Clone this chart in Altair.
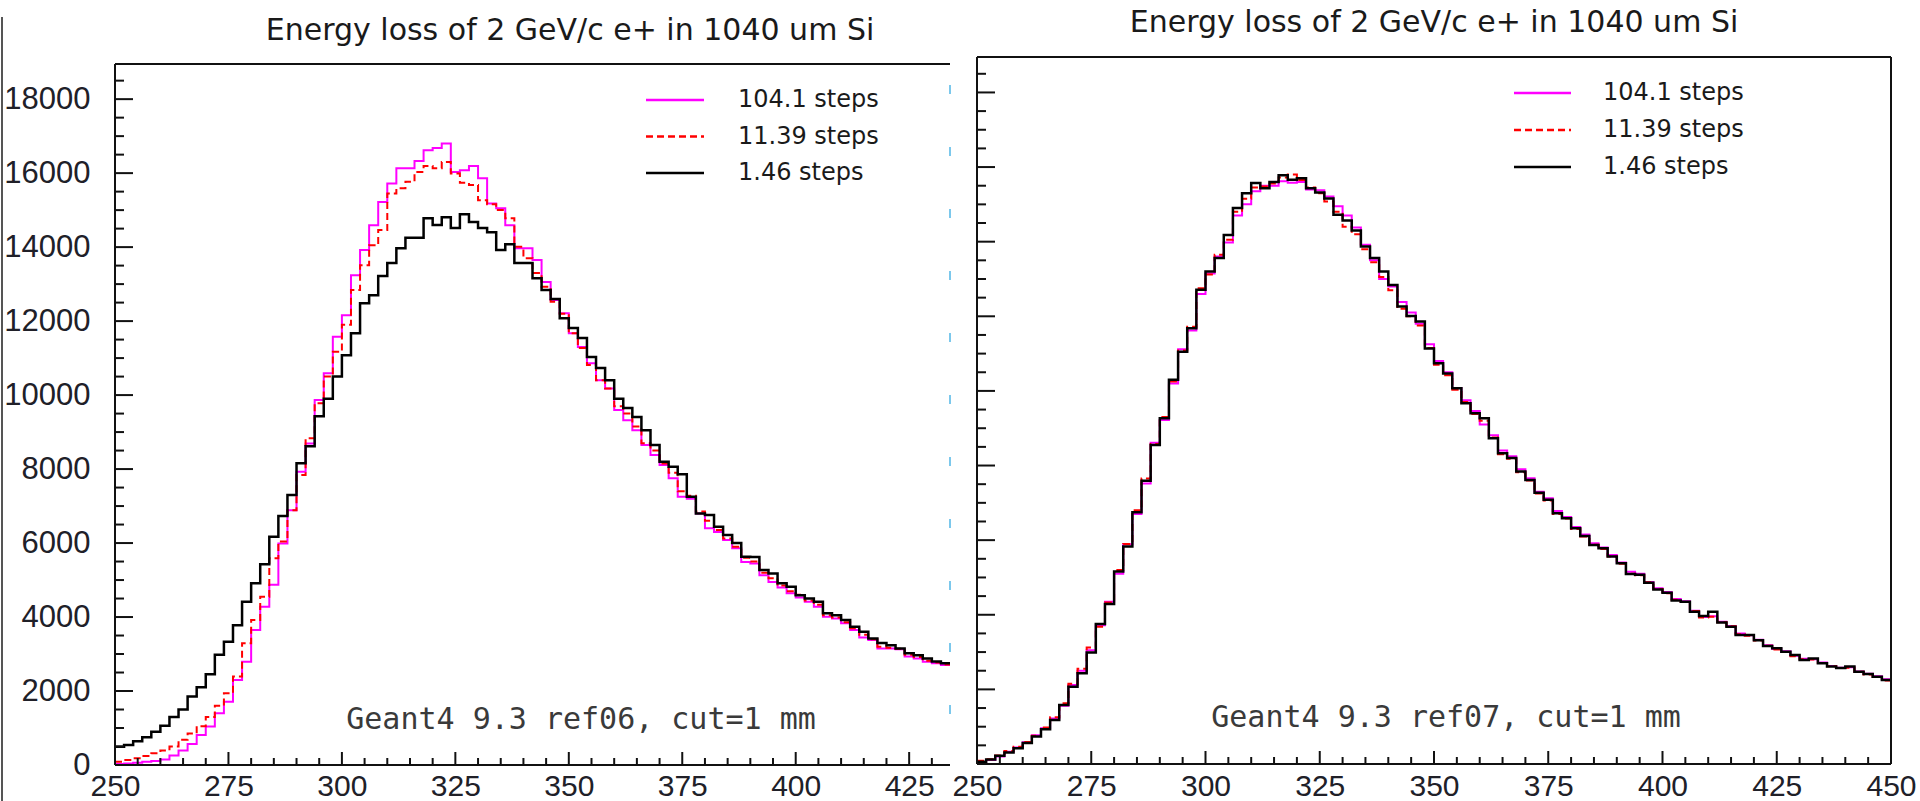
import altair as alt
import pandas as pd

# ---------------- data ----------------
SERIES = ["104.1 steps", "11.39 steps", "1.46 steps"]
COLORS = ["#ff00ff", "#ff0000", "#000000"]
TITLE = "Energy loss of 2 GeV/c e+ in 1040 um Si"
NOTE_LEFT = "Geant4 9.3 ref06, cut=1 mm"
NOTE_RIGHT = "Geant4 9.3 ref07, cut=1 mm"

BIN_START = 250
BIN_WIDTH = 2

left_magenta = [30, 40, 60, 90, 110, 150, 260, 390, 570, 810, 1040, 1400, 1710, 2300, 2790, 3650,
                4280, 4870, 5990, 6890, 7930, 8690, 9870, 10590, 11580, 12160, 13240, 13920, 14590,
                15220, 15720, 16130, 16130, 16330, 16620, 16680, 16800, 16030, 16080, 16190, 15860,
                15180, 15050, 14590, 13970, 13970, 13650, 13060, 12570, 12210, 11670, 11300, 10860,
                10400, 10180, 9600, 9320, 9050, 8650, 8380, 8110, 7750, 7250, 7200, 6800, 6400, 6300,
                6080, 5860, 5490, 5450, 5130, 4950, 4800, 4640, 4530, 4410, 4280, 4010, 3960, 3830,
                3650, 3450, 3380, 3150, 3150, 3130, 2930, 2880, 2790, 2750, 2700]
left_red = [90, 135, 180, 240, 320, 390, 500, 680, 850, 1050, 1300, 1600, 1940, 2390, 3290, 3920,
            4550, 5590, 6040, 6890, 7840, 8830, 9780, 10500, 11170, 11900, 12840, 13510, 14050,
            14460, 15450, 15590, 15770, 16030, 16190, 16130, 16300, 15990, 15740, 15680, 15270,
            15160, 15000, 14780, 14010, 13700, 13300, 12930, 12520, 12200, 11670, 11270, 10810,
            10400, 10180, 9700, 9500, 9150, 8700, 8500, 8150, 7900, 7400, 7280, 6850, 6600, 6350,
            6120, 5900, 5600, 5500, 5200, 5050, 4850, 4700, 4600, 4450, 4330, 4050, 3990, 3860,
            3700, 3520, 3400, 3200, 3170, 3140, 2980, 2920, 2820, 2770, 2720]
left_black = [490, 540, 640, 750, 900, 1060, 1300, 1500, 1850, 2100, 2450, 2980, 3330, 3780, 4410,
              4910, 5430, 6170, 6730, 7300, 8160, 8620, 9430, 9900, 10500, 11080, 11670, 12480,
              12700, 13220, 13570, 13970, 14250, 14250, 14780, 14600, 14810, 14520, 14890, 14680,
              14520, 14400, 13920, 14080, 13570, 13570, 13160, 12840, 12600, 12080, 11810, 11540,
              11030, 10730, 10400, 9900, 9650, 9410, 9050, 8650, 8200, 8060, 7860, 7250, 6800, 6760,
              6440, 6220, 6000, 5630, 5620, 5270, 5180, 4910, 4820, 4590, 4500, 4410, 4100, 4050,
              3920, 3740, 3600, 3420, 3300, 3240, 3150, 3020, 2970, 2880, 2800, 2750]

right_magenta = [40, 110, 200, 330, 440, 580, 770, 960, 1220, 1560, 2120, 2500, 3050, 3720, 4350,
                 5100, 5890, 6700, 7520, 8610, 9220, 10200, 11120, 11620, 12600, 13150, 13600, 13980,
                 14700, 15000, 15350, 15500, 15500, 15620, 15580, 15600, 15400, 15380, 15210, 14950,
                 14700, 14380, 13920, 13500, 13000, 12800, 12380, 12100, 11800, 11250, 10800, 10500,
                 10080, 9750, 9460, 9100, 8810, 8400, 8250, 7900, 7660, 7300, 7120, 6780, 6620, 6350,
                 6150, 5920, 5800, 5600, 5400, 5150, 5100, 4880, 4710, 4610, 4420, 4360, 4110, 3940,
                 3960, 3810, 3700, 3500, 3450, 3330, 3180, 3080, 3020, 2900, 2820, 2810, 2720, 2630,
                 2580, 2590, 2480, 2420, 2350, 2270]
right_red = [90, 130, 230, 350, 460, 590, 760, 980, 1250, 1630, 2150, 2550, 3120, 3680, 4330, 5200,
             5900, 6800, 7650, 8580, 9300, 10250, 11080, 11720, 12750, 13120, 13650, 14050, 14800,
             15150, 15450, 15480, 15560, 15720, 15800, 15650, 15450, 15300, 15080, 14800, 14400,
             14200, 13800, 13450, 13050, 12700, 12200, 12000, 11750, 11150, 10700, 10420, 10030,
             9700, 9380, 9200, 8750, 8300, 8180, 7820, 7600, 7250, 7060, 6700, 6580, 6300, 6100,
             5880, 5760, 5560, 5370, 5100, 5060, 4870, 4690, 4580, 4400, 4340, 4100, 3930, 3950,
             3800, 3690, 3480, 3440, 3310, 3170, 3070, 3000, 2890, 2810, 2800, 2710, 2620, 2570,
             2580, 2470, 2400, 2330, 2240]
right_black = [60, 120, 220, 310, 420, 560, 740, 930, 1180, 1580, 2070, 2430, 2990, 3750, 4290, 5160,
               5830, 6750, 7590, 8550, 9270, 10300, 11050, 11680, 12710, 13200, 13560, 14180, 14900,
               15300, 15570, 15430, 15600, 15780, 15660, 15700, 15430, 15320, 15160, 14720, 14570,
               14300, 13870, 13560, 13200, 12840, 12260, 12010, 11860, 11140, 10740, 10470, 10070,
               9670, 9400, 9270, 8730, 8330, 8200, 7840, 7610, 7270, 7080, 6720, 6590, 6320, 6110,
               5870, 5780, 5560, 5380, 5090, 5070, 4860, 4680, 4590, 4380, 4350, 4080, 3970, 4080,
               3790, 3680, 3460, 3460, 3320, 3160, 3100, 3010, 2920, 2790, 2830, 2700, 2610, 2570,
               2610, 2470, 2410, 2340, 2250]

X_LABELS_LEFT = [250, 275, 300, 325, 350, 375, 400, 425]
X_LABELS_RIGHT = [250, 275, 300, 325, 350, 375, 400, 425, 450]
Y_LABELS = [0, 2000, 4000, 6000, 8000, 10000, 12000, 14000, 16000, 18000]

X_MAX_LEFT = 434
X_MAX_RIGHT = 450
Y_MAX = 18950

# ---------------- layout (pixels) ----------------
W, H = 1920, 801
L_X0, L_X1, L_Y0, L_Y1 = 115, 950, 765, 64
R_X0, R_X1, R_Y0, R_Y1 = 977, 1891, 764, 57

XL = alt.Scale(domain=[BIN_START, X_MAX_LEFT], range=[L_X0, L_X1], nice=False, zero=False)
YL = alt.Scale(domain=[0, Y_MAX], range=[L_Y0, L_Y1], nice=False, zero=False)
XR = alt.Scale(domain=[BIN_START, X_MAX_RIGHT], range=[R_X0, R_X1], nice=False, zero=False)
YR = alt.Scale(domain=[0, Y_MAX], range=[R_Y0, R_Y1], nice=False, zero=False)

LABEL_FONT = "Liberation Sans"
LABEL_COLOR = "#202028"
LABEL_SIZE = 30
LABEL_TOP = 771  # top of the x tick-label boxes


def x_axis(values, axis_y):
    return alt.Axis(orient="bottom", values=values, format="d", grid=False, domain=False,
                    ticks=False, tickSize=0, labelFontSize=LABEL_SIZE, labelFont=LABEL_FONT,
                    labelColor=LABEL_COLOR, labelPadding=LABEL_TOP - axis_y, labelFlush=False,
                    labelOverlap=False, title=None, offset=-(H - axis_y))


AXL = x_axis(X_LABELS_LEFT, L_Y0)
AXR = x_axis(X_LABELS_RIGHT, R_Y0)
AYL = alt.Axis(orient="left", values=Y_LABELS, format="d", grid=False, domain=False,
               ticks=False, tickSize=0, labelFontSize=31, labelFont=LABEL_FONT,
               labelColor=LABEL_COLOR, labelPadding=25, labelOverlap=False, title=None,
               offset=-L_X0)

STYLE = {
    SERIES[0]: dict(color=COLORS[0], strokeWidth=2),
    SERIES[1]: dict(color=COLORS[1], strokeWidth=2, strokeDash=[7, 4]),
    SERIES[2]: dict(color=COLORS[2], strokeWidth=2.5),
}


def hist_df(values):
    edges = [BIN_START + BIN_WIDTH * i for i in range(len(values) + 1)]
    return pd.DataFrame({"x": edges, "v": list(values) + [values[-1]]})


def panel(series_values, xs, ys, xax, yax, x_major, x_minor, x_max, x0, y0, right_frame):
    layers = []
    for name, vals in zip(SERIES, series_values):
        layers.append(
            alt.Chart(hist_df(vals)).mark_line(interpolate="step-after", **STYLE[name]).encode(
                x=alt.X("x:Q", scale=xs, axis=xax),
                y=alt.Y("v:Q", scale=ys, axis=yax),
            )
        )
    # frame
    rows = [
        dict(x=BIN_START, x2=BIN_START, y=0, y2=Y_MAX),
        dict(x=BIN_START, x2=x_max, y=0, y2=0),
        dict(x=BIN_START, x2=x_max, y=Y_MAX, y2=Y_MAX),
    ]
    if right_frame:
        rows.append(dict(x=x_max, x2=x_max, y=0, y2=Y_MAX))
    layers.append(
        alt.Chart(pd.DataFrame(rows)).mark_rule(color="#111111", strokeWidth=2).encode(
            x=alt.X("x:Q", scale=xs, axis=xax), x2="x2:Q",
            y=alt.Y("y:Q", scale=ys, axis=yax), y2="y2:Q",
        )
    )
    # inward ticks
    for vals, ln in ((x_major, 13), (x_minor, 7)):
        layers.append(
            alt.Chart(pd.DataFrame({"t": vals})).mark_rule(color="#111111", strokeWidth=2).encode(
                x=alt.X("t:Q", scale=xs, axis=xax), y=alt.value(y0), y2=alt.value(y0 - ln)
            )
        )
    y_minor = [v for v in range(0, Y_MAX, 500) if v % 2000]
    for vals, ln in ((Y_LABELS, 18), (y_minor, 9)):
        layers.append(
            alt.Chart(pd.DataFrame({"t": vals})).mark_rule(color="#111111", strokeWidth=2).encode(
                y=alt.Y("t:Q", scale=ys, axis=yax), x=alt.value(x0), x2=alt.value(x0 + ln)
            )
        )
    return alt.layer(*layers)


left = panel([left_magenta, left_red, left_black], XL, YL, AXL, AYL,
             X_LABELS_LEFT, [v for v in range(255, X_MAX_LEFT, 5) if v % 25],
             X_MAX_LEFT, L_X0, L_Y0, False)
right = panel([right_magenta, right_red, right_black], XR, YR, AXR, None,
              X_LABELS_RIGHT, [v for v in range(255, X_MAX_RIGHT, 5) if v % 25],
              X_MAX_RIGHT, R_X0, R_Y0, True)


def legend(line_x0, line_x1, text_x, top, gap):
    df = pd.DataFrame({"name": SERIES, "py": [top + i * gap for i in range(len(SERIES))]})
    col = alt.Color("name:N", scale=alt.Scale(domain=SERIES, range=COLORS), legend=None)
    dash = alt.StrokeDash("name:N", scale=alt.Scale(domain=SERIES, range=[[1, 0], [7, 4], [1, 0]]),
                          legend=None)
    lines = alt.Chart(df).mark_rule(strokeWidth=2.5).encode(
        x=alt.value(line_x0), x2=alt.value(line_x1), y=alt.Y("py:Q", scale=None), color=col,
        strokeDash=dash)
    texts = alt.Chart(df).mark_text(align="left", baseline="middle", font="DejaVu Sans",
                                    fontSize=24, color="#1a1a1a").encode(
        x=alt.value(text_x), y=alt.Y("py:Q", scale=None), text="name:N")
    return [lines, texts]


def label(text, x, y, **kw):
    return alt.Chart(pd.DataFrame({"t": [text]})).mark_text(**kw).encode(
        x=alt.value(x), y=alt.value(y), text="t:N")


title_kw = dict(font="DejaVu Sans", fontSize=30, color="#1a1a1a", align="center",
                baseline="alphabetic")
note_kw = dict(font="DejaVu Sans Mono", fontSize=30, color="#3a3a3a", align="center",
               baseline="middle")

extras = []
extras += legend(646, 704, 738, 100, 36.5)
extras += legend(1514, 1571, 1603, 93, 37)
extras.append(label(TITLE, 570, 40, **title_kw))
extras.append(label(TITLE, 1434, 32, **title_kw))
extras.append(label(NOTE_LEFT, 581, 720, **note_kw))
extras.append(label(NOTE_RIGHT, 1446, 718, **note_kw))

one = pd.DataFrame({"a": [0]})
extras.append(alt.Chart(one).mark_rule(color="#555555", strokeWidth=2).encode(
    x=alt.value(2), y=alt.value(17), y2=alt.value(H)))
extras.append(alt.Chart(one).mark_rule(color="#7cc8ec", strokeWidth=2, strokeDash=[9, 53]).encode(
    x=alt.value(L_X1), y=alt.value(85), y2=alt.value(L_Y0)))

chart = alt.layer(left, right, *extras).resolve_scale(
    x="independent", y="independent"
).properties(
    width=W, height=H, padding=0, autosize=alt.AutoSizeParams(type="none"), background="white"
).configure_view(stroke=None)

chart.save("out.html", embed_options={"renderer": "svg", "actions": False})
